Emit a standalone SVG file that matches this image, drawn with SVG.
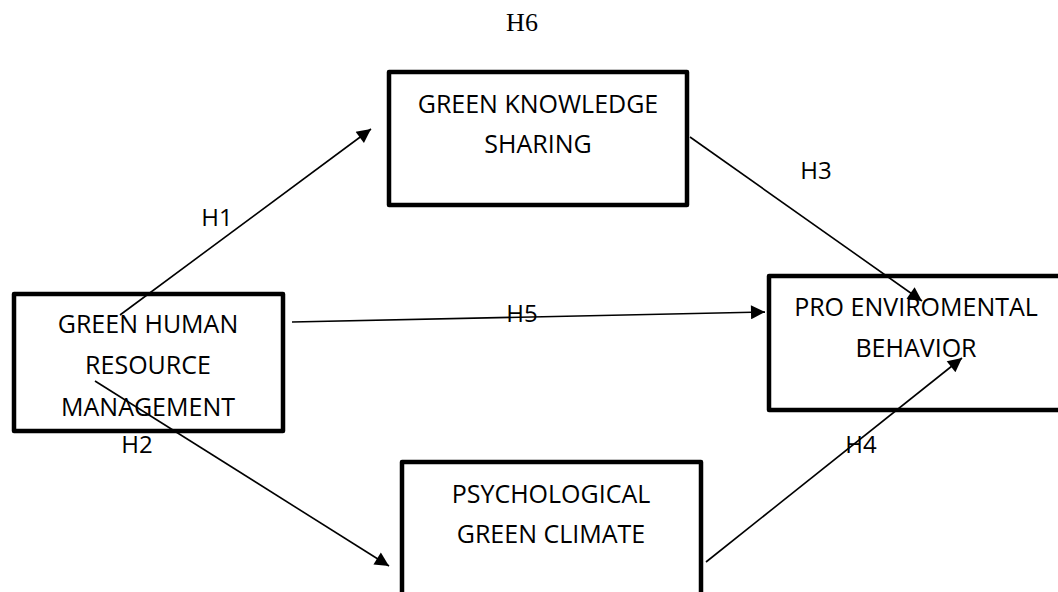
<svg xmlns="http://www.w3.org/2000/svg" width="1058" height="592" viewBox="0 0 1058 592">
<style>
.box{fill:#fff;stroke:#000;stroke-width:4.5;stroke-linejoin:round}
.t{font-family:"Open Sans","Liberation Sans",sans-serif;font-size:25px;fill:#000;text-anchor:middle}
.lbl{font-family:"Open Sans","Liberation Sans",sans-serif;font-size:24px;fill:#000;text-anchor:middle}
.con{stroke:#000;stroke-width:1.6;fill:none;marker-end:url(#ah)}
</style>
<defs>
<marker id="ah" viewBox="0 0 10 10" refX="10" refY="5" markerUnits="userSpaceOnUse" markerWidth="16" markerHeight="14" orient="auto">
<path d="M0,0 L10,5 L0,10 z" fill="#000"/>
</marker>
</defs>
<rect width="1058" height="592" fill="#fff"/>
<text x="522" y="31" style="font-family:'Liberation Serif',serif;font-size:26px;text-anchor:middle">H6</text>
<g id="node-ghrm">
<rect class="box" x="14" y="294" width="269" height="137"/>
<text class="t" x="148" y="333">GREEN HUMAN</text>
<text class="t" x="148" y="374">RESOURCE</text>
<text class="t" x="148" y="416">MANAGEMENT</text>
</g>
<g id="node-gks">
<rect class="box" x="389" y="72" width="298" height="133"/>
<text class="t" x="538" y="113">GREEN KNOWLEDGE</text>
<text class="t" x="538" y="153">SHARING</text>
</g>
<g id="node-peb">
<rect class="box" x="769" y="276" width="300" height="134"/>
<text class="t" x="916" y="316">PRO ENVIROMENTAL</text>
<text class="t" x="916" y="357">BEHAVIOR</text>
</g>
<g id="node-pgc">
<rect class="box" x="402" y="462" width="299" height="140"/>
<text class="t" x="551" y="503">PSYCHOLOGICAL</text>
<text class="t" x="551" y="543">GREEN CLIMATE</text>
</g>
<g id="connectors">
<line class="con" x1="120" y1="315" x2="371" y2="129"/>
<line class="con" x1="292" y1="322" x2="765" y2="312"/>
<line class="con" x1="95" y1="381" x2="389" y2="566"/>
<line class="con" x1="690" y1="137" x2="922" y2="301"/>
<line class="con" x1="706" y1="562" x2="962" y2="358"/>
</g>
<g id="labels">
<text class="lbl" x="217" y="226">H1</text>
<text class="lbl" x="137" y="453">H2</text>
<text class="lbl" x="816" y="179">H3</text>
<text class="lbl" x="861" y="453">H4</text>
<text class="lbl" x="522" y="322">H5</text>
</g>
</svg>
